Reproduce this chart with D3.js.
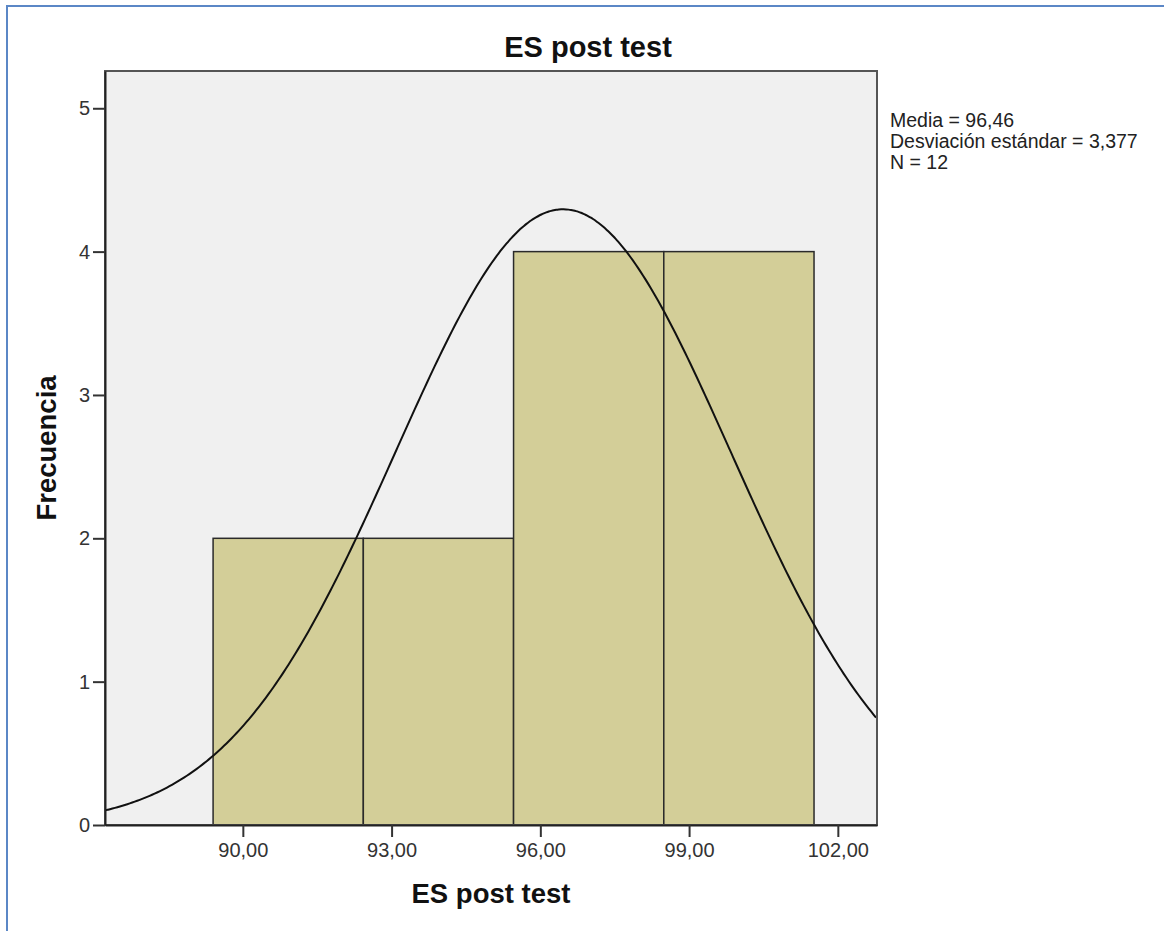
<!DOCTYPE html>
<html>
<head>
<meta charset="utf-8">
<script src="https://cdn.jsdelivr.net/npm/d3@7"></script>
<style>
  body { margin: 0; background: #fff; }
  text { font-family: Arial, "Liberation Sans", sans-serif; }
</style>
</head>
<body>
<div id="chart"></div>
<script>
// histogram data
var binEdges = [89.40, 92.43, 95.46, 98.49, 101.52];
var counts = [2, 2, 4, 4];
var xTicks = [90, 93, 96, 99, 102];
var yTicks = [0, 1, 2, 3, 4, 5];
var media = 96.46;
var desv = 3.377;
var n = 12;
var statLines = ["Media = 96,46", "Desviación estándar = 3,377", "N = 12"];

var svgWidth = 1164;
var svgHeight = 931;

var margin = { top: 71, right: 287, bottom: 106, left: 105 };
var width = svgWidth - margin.left - margin.right;
var height = svgHeight - margin.top - margin.bottom;

var svg = d3.select("#chart")
  .append("svg")
  .attr("width", svgWidth)
  .attr("height", svgHeight);

// blue frame (top and left only)
svg.append("line").attr("x1", 6).attr("x2", svgWidth).attr("y1", 6).attr("y2", 6)
  .attr("stroke", "#5b87c6").attr("stroke-width", 2);
svg.append("line").attr("x1", 7).attr("x2", 7).attr("y1", 5).attr("y2", svgHeight)
  .attr("stroke", "#5b87c6").attr("stroke-width", 2);

var chartGroup = svg.append("g")
  .attr("transform", `translate(${margin.left}, ${margin.top})`);

var xScale = d3.scaleLinear().domain([87.22, 102.79]).range([0, width]);
var yScale = d3.scaleLinear().domain([0, 5.26]).range([height, 0]);

// plot background
chartGroup.append("rect")
  .attr("width", width).attr("height", height)
  .attr("fill", "#f0f0f0");

// bars
var bins = counts.map(function(c, i) { return { x0: binEdges[i], x1: binEdges[i + 1], count: c }; });
chartGroup.selectAll(".bar")
  .data(bins)
  .enter()
  .append("rect")
  .attr("class", "bar")
  .attr("x", d => xScale(d.x0))
  .attr("width", d => xScale(d.x1) - xScale(d.x0))
  .attr("y", d => yScale(d.count))
  .attr("height", d => yScale(0) - yScale(d.count))
  .attr("fill", "#d3ce98")
  .attr("stroke", "#2a2a2a")
  .attr("stroke-width", 1.5);

// normal curve from the stated mean / sd
var binW = binEdges[1] - binEdges[0];
function normal(x) {
  var z = (x - media) / desv;
  return n * binW / (desv * Math.sqrt(2 * Math.PI)) * Math.exp(-0.5 * z * z);
}
var curveX = d3.range(87.22, 102.8, 0.05);
var line = d3.line()
  .x(d => xScale(d))
  .y(d => yScale(normal(d)))
  .curve(d3.curveBasis);

chartGroup.append("clipPath").attr("id", "clip")
  .append("rect").attr("width", width).attr("height", height);

chartGroup.append("path")
  .datum(curveX)
  .attr("d", line)
  .attr("fill", "none")
  .attr("stroke", "#111")
  .attr("stroke-width", 2)
  .attr("clip-path", "url(#clip)");

// plot frame
chartGroup.append("rect")
  .attr("width", width).attr("height", height)
  .attr("fill", "none")
  .attr("stroke", "#555")
  .attr("stroke-width", 2);

// axes
var bottomAxis = d3.axisBottom(xScale)
  .tickValues(xTicks)
  .tickSize(12)
  .tickSizeOuter(0)
  .tickPadding(6)
  .tickFormat(d => d3.format(".2f")(d).replace(".", ","));
var leftAxis = d3.axisLeft(yScale)
  .tickValues(yTicks)
  .tickSize(12)
  .tickSizeOuter(0)
  .tickPadding(3)
  .tickFormat(d3.format("d"));

var xAxis = chartGroup.append("g")
  .attr("transform", `translate(0, ${height})`)
  .call(bottomAxis);
var yAxis = chartGroup.append("g")
  .call(leftAxis);

[xAxis, yAxis].forEach(function(ax) {
  ax.select(".domain").attr("stroke", "#222").attr("stroke-width", 2);
  ax.selectAll(".tick line").attr("stroke", "#333").attr("stroke-width", 2);
  ax.selectAll(".tick text").attr("fill", "#333").attr("font-size", "20px")
    .attr("font-family", "Arial, 'Liberation Sans', sans-serif");
});

// title
svg.append("text")
  .attr("x", 588).attr("y", 57)
  .attr("text-anchor", "middle")
  .attr("font-size", "29px").attr("font-weight", "bold")
  .attr("fill", "#111")
  .text("ES post test");

// x label
svg.append("text")
  .attr("x", margin.left + width / 2).attr("y", 903)
  .attr("text-anchor", "middle")
  .attr("font-size", "27.5px").attr("font-weight", "bold")
  .attr("fill", "#111")
  .text("ES post test");

// y label
svg.append("text")
  .attr("transform", "rotate(-90)")
  .attr("x", -(margin.top + height / 2)).attr("y", 56)
  .attr("text-anchor", "middle")
  .attr("font-size", "27.5px").attr("font-weight", "bold")
  .attr("fill", "#111")
  .text("Frecuencia");

// stats box
svg.selectAll(".stat")
  .data(statLines)
  .enter()
  .append("text")
  .attr("class", "stat")
  .attr("x", 890)
  .attr("y", (d, i) => 127 + i * 21)
  .attr("font-size", "19.5px")
  .attr("fill", "#222")
  .text(d => d);
</script>
</body>
</html>
